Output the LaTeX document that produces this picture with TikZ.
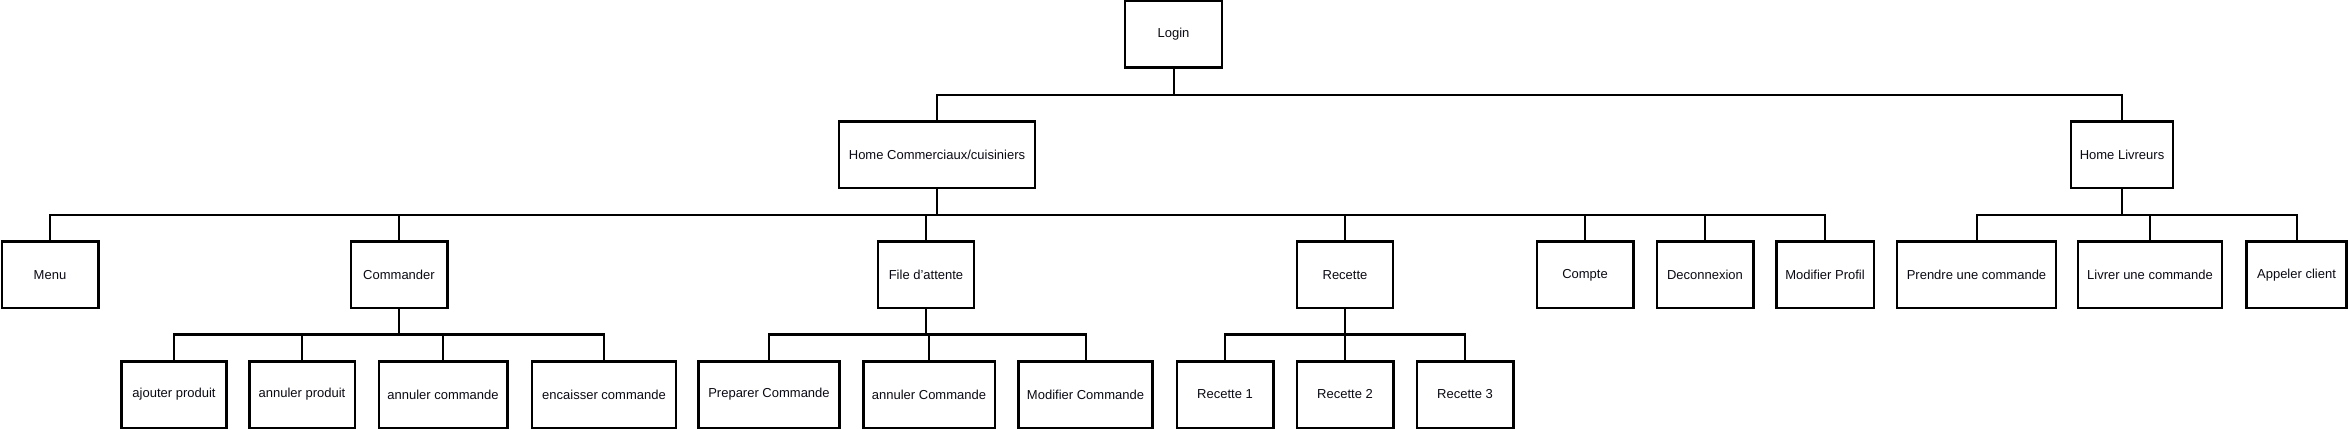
\documentclass[tikz,border=0pt]{standalone}
\usepackage{fontspec}
\setmainfont{Liberation Sans}
\usetikzlibrary{positioning}

\definecolor{Trait}{HTML}{000000}
\definecolor{Texte}{HTML}{0A0A14}

\tikzset{
  ecran/.style={draw=Trait, fill=white, line width=2.5, inner sep=0pt,
    minimum height=66.5, text=Texte, font=\fontsize{13}{15}\selectfont},
  lien/.style={draw=Trait, line width=2},
}

\begin{document}
\begin{tikzpicture}[x=1pt, y=-1pt]

\useasboundingbox (0,0) rectangle (2348,430);

%%%%%%%%%% Niveau 0 %%%%%%%%%%
 \node[ecran, minimum width=97] (login) at (1173.5,34.5) {Login};

%%%%%%%%%% Niveau 1 %%%%%%%%%%
 \node[ecran, minimum width=196] (hc) at (937,155) {Home Commerciaux/cuisiniers};
 \node[ecran, minimum width=102] (hl) at (2122,155) {Home Livreurs};

%%%%%%%%%% Niveau 2 %%%%%%%%%%
 \node[ecran, minimum width=96.5] (menu) at (50,275) {Menu};
 \node[ecran, minimum width=96.5] (cmd) at (399,275) {Commander};
 \node[ecran, minimum width=96] (file) at (926,275) {File d'attente};
 \node[ecran, minimum width=96] (rec) at (1345,275) {Recette};
 \node[ecran, minimum width=96.5] (compte) at (1585,275) {Compte};
 \node[ecran, minimum width=96.5] (deco) at (1705,275) {Deconnexion};
 \node[ecran, minimum width=97.5] (modp) at (1825,275) {Modifier Profil};
 \node[ecran, minimum width=159] (prendre) at (1976.5,275) {Prendre une commande};
 \node[ecran, minimum width=144] (livrer) at (2150,275) {Livrer une commande};
 \node[ecran, minimum width=100] (appeler) at (2296.5,275) {Appeler client};

%%%%%%%%%% Niveau 3 %%%%%%%%%%
 \node[ecran, minimum width=105] (ajout) at (174,394.5) {ajouter produit};
 \node[ecran, minimum width=105.5] (annp) at (302,394.5) {annuler produit};
 \node[ecran, minimum width=128.5] (annc) at (443,394.5) {annuler commande};
 \node[ecran, minimum width=144] (enc) at (604,394.5) {encaisser commande};
 \node[ecran, minimum width=141] (prep) at (769,394.5) {Preparer Commande};
 \node[ecran, minimum width=131.5] (annC) at (929,394.5) {annuler Commande};
 \node[ecran, minimum width=134] (modC) at (1085.5,394.5) {Modifier Commande};
 \node[ecran, minimum width=96.5] (r1) at (1225,394.5) {Recette 1};
 \node[ecran, minimum width=96.5] (r2) at (1345,394.5) {Recette 2};
 \node[ecran, minimum width=96.5] (r3) at (1465,394.5) {Recette 3};

%%%%%%%%%% Points des bus %%%%%%%%%%
 \coordinate (bLogin) at (1173.5,95);
 \coordinate (bHC) at (937,215);
 \coordinate (bHL) at (2122,215);
 \coordinate (bCmd) at (399,334.5);
 \coordinate (bFile) at (926,334.5);
 \coordinate (bRec) at (1345,334.5);

%%%%%%%%%% Liens %%%%%%%%%%
 \draw [lien] (login.south) -- (bLogin) ;
 \draw [lien] (hc.north) |- (bLogin) -| (hl.north) ;

 \draw [lien] (hc.south) -- (bHC) ;
 \draw [lien] (menu.north) |- (bHC) -| (modp.north) ;
 \foreach \n in {cmd, file, rec, compte, deco}
   \draw [lien] (\n.north) -- (\n.north |- bHC) ;

 \draw [lien] (hl.south) -- (bHL) ;
 \draw [lien] (prendre.north) |- (bHL) -| (appeler.north) ;
 \draw [lien] (livrer.north) -- (livrer.north |- bHL) ;

 \draw [lien] (cmd.south) -- (bCmd) ;
 \draw [lien] (ajout.north) |- (bCmd) -| (enc.north) ;
 \foreach \n in {annp, annc}
   \draw [lien] (\n.north) -- (\n.north |- bCmd) ;

 \draw [lien] (file.south) -- (bFile) ;
 \draw [lien] (prep.north) |- (bFile) -| (modC.north) ;
 \draw [lien] (annC.north) -- (annC.north |- bFile) ;

 \draw [lien] (rec.south) -- (bRec) ;
 \draw [lien] (r1.north) |- (bRec) -| (r3.north) ;
 \draw [lien] (r2.north) -- (bRec) ;

\end{tikzpicture}
\end{document}
